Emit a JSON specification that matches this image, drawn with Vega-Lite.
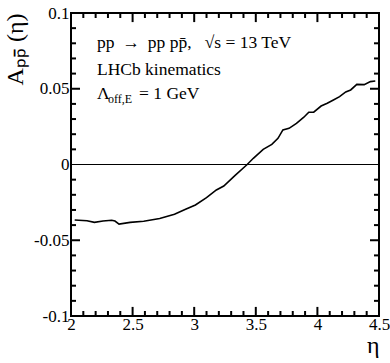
{
  "$schema": "https://vega.github.io/schema/vega-lite/v6.json",
  "width": 308,
  "height": 303,
  "autosize": "none",
  "padding": {"left": 71, "top": 13, "right": 11, "bottom": 47},
  "background": "white",
  "config": {
    "view": {"stroke": "black", "strokeWidth": 2},
    "axis": {"labelFont": "Liberation Serif", "titleFont": "Liberation Serif", "labelColor": "black", "titleColor": "black", "grid": false, "domain": false, "labelFlush": false, "labelOverlap": false, "titleFontWeight": "normal"},
    "text": {"font": "Liberation Serif", "color": "black", "align": "left", "baseline": "middle"}
  },
  "layer": [
    {
      "data": {"values": [
        {"eta": 2.03, "A": -0.0366},
        {"eta": 2.13, "A": -0.0371},
        {"eta": 2.19, "A": -0.0382},
        {"eta": 2.26, "A": -0.0373},
        {"eta": 2.33, "A": -0.0368},
        {"eta": 2.357, "A": -0.0373},
        {"eta": 2.39, "A": -0.0393},
        {"eta": 2.48, "A": -0.0382},
        {"eta": 2.59, "A": -0.0375},
        {"eta": 2.72, "A": -0.0357},
        {"eta": 2.84, "A": -0.0329},
        {"eta": 2.93, "A": -0.0296},
        {"eta": 3.01, "A": -0.0267},
        {"eta": 3.10, "A": -0.0219},
        {"eta": 3.18, "A": -0.0168},
        {"eta": 3.24, "A": -0.0142},
        {"eta": 3.33, "A": -0.0074},
        {"eta": 3.43, "A": 0.0},
        {"eta": 3.48, "A": 0.0041},
        {"eta": 3.56, "A": 0.0100},
        {"eta": 3.63, "A": 0.0133},
        {"eta": 3.68, "A": 0.0173},
        {"eta": 3.72, "A": 0.0228},
        {"eta": 3.77, "A": 0.0239},
        {"eta": 3.83, "A": 0.0272},
        {"eta": 3.89, "A": 0.0312},
        {"eta": 3.93, "A": 0.0345},
        {"eta": 3.97, "A": 0.0345},
        {"eta": 4.03, "A": 0.0386},
        {"eta": 4.08, "A": 0.0404},
        {"eta": 4.13, "A": 0.0426},
        {"eta": 4.18, "A": 0.0448},
        {"eta": 4.23, "A": 0.0479},
        {"eta": 4.27, "A": 0.0492},
        {"eta": 4.32, "A": 0.0529},
        {"eta": 4.38, "A": 0.0527},
        {"eta": 4.43, "A": 0.0547},
        {"eta": 4.47, "A": 0.0551}
      ]},
      "mark": {"type": "line", "color": "black", "strokeWidth": 1.6},
      "encoding": {
        "x": {"field": "eta", "type": "quantitative", "scale": {"domain": [2, 4.5], "nice": false, "zero": false},
          "axis": {"orient": "bottom", "ticks": false, "values": [2, 2.5, 3, 3.5, 4, 4.5], "labelExpr": "'' + datum.value", "labelFontSize": 17, "labelPadding": 0, "title": "η", "titleFontSize": 24, "titleAnchor": "end", "titleAlign": "right", "titlePadding": 1}},
        "y": {"field": "A", "type": "quantitative", "scale": {"domain": [-0.1, 0.1], "nice": false, "zero": false},
          "axis": {"orient": "left", "ticks": false, "values": [-0.1, -0.05, 0, 0.05, 0.1], "labelExpr": "'' + datum.value", "labelFontSize": 17, "labelPadding": 2, "title": "Aₚₚ̄ (η)", "titleFontSize": 24, "titleAnchor": "end", "titleAlign": "right", "titlePadding": 6}}
      }
    },
    {
      "data": {"values": [{"x0": 2, "x1": 4.5, "z": 0}]},
      "mark": {"type": "rule", "color": "black", "strokeWidth": 1.2},
      "encoding": {
        "x": {"field": "x0", "type": "quantitative"},
        "x2": {"field": "x1"},
        "y": {"field": "z", "type": "quantitative"}
      }
    },
    {
      "data": {"values": [
        {"v": 2.5, "b0": -0.1, "b1": -0.094, "t0": 0.1, "t1": 0.094},
        {"v": 3, "b0": -0.1, "b1": -0.094, "t0": 0.1, "t1": 0.094},
        {"v": 3.5, "b0": -0.1, "b1": -0.094, "t0": 0.1, "t1": 0.094},
        {"v": 4, "b0": -0.1, "b1": -0.094, "t0": 0.1, "t1": 0.094},
        {"v": 2.1, "b0": -0.1, "b1": -0.0967, "t0": 0.1, "t1": 0.0967},
        {"v": 2.2, "b0": -0.1, "b1": -0.0967, "t0": 0.1, "t1": 0.0967},
        {"v": 2.3, "b0": -0.1, "b1": -0.0967, "t0": 0.1, "t1": 0.0967},
        {"v": 2.4, "b0": -0.1, "b1": -0.0967, "t0": 0.1, "t1": 0.0967},
        {"v": 2.6, "b0": -0.1, "b1": -0.0967, "t0": 0.1, "t1": 0.0967},
        {"v": 2.7, "b0": -0.1, "b1": -0.0967, "t0": 0.1, "t1": 0.0967},
        {"v": 2.8, "b0": -0.1, "b1": -0.0967, "t0": 0.1, "t1": 0.0967},
        {"v": 2.9, "b0": -0.1, "b1": -0.0967, "t0": 0.1, "t1": 0.0967},
        {"v": 3.1, "b0": -0.1, "b1": -0.0967, "t0": 0.1, "t1": 0.0967},
        {"v": 3.2, "b0": -0.1, "b1": -0.0967, "t0": 0.1, "t1": 0.0967},
        {"v": 3.3, "b0": -0.1, "b1": -0.0967, "t0": 0.1, "t1": 0.0967},
        {"v": 3.4, "b0": -0.1, "b1": -0.0967, "t0": 0.1, "t1": 0.0967},
        {"v": 3.6, "b0": -0.1, "b1": -0.0967, "t0": 0.1, "t1": 0.0967},
        {"v": 3.7, "b0": -0.1, "b1": -0.0967, "t0": 0.1, "t1": 0.0967},
        {"v": 3.8, "b0": -0.1, "b1": -0.0967, "t0": 0.1, "t1": 0.0967},
        {"v": 3.9, "b0": -0.1, "b1": -0.0967, "t0": 0.1, "t1": 0.0967},
        {"v": 4.1, "b0": -0.1, "b1": -0.0967, "t0": 0.1, "t1": 0.0967},
        {"v": 4.2, "b0": -0.1, "b1": -0.0967, "t0": 0.1, "t1": 0.0967},
        {"v": 4.3, "b0": -0.1, "b1": -0.0967, "t0": 0.1, "t1": 0.0967},
        {"v": 4.4, "b0": -0.1, "b1": -0.0967, "t0": 0.1, "t1": 0.0967}
      ]},
      "layer": [
        {
          "mark": {"type": "rule", "color": "black", "strokeWidth": 2},
          "encoding": {
            "x": {"field": "v", "type": "quantitative"},
            "y": {"field": "b0", "type": "quantitative"},
            "y2": {"field": "b1"}
          }
        },
        {
          "mark": {"type": "rule", "color": "black", "strokeWidth": 2},
          "encoding": {
            "x": {"field": "v", "type": "quantitative"},
            "y": {"field": "t0", "type": "quantitative"},
            "y2": {"field": "t1"}
          }
        }
      ]
    },
    {
      "data": {"values": [
        {"v": -0.05, "l0": 2, "l1": 2.073, "r0": 4.5, "r1": 4.427},
        {"v": 0.05, "l0": 2, "l1": 2.073, "r0": 4.5, "r1": 4.427},
        {"v": -0.09, "l0": 2, "l1": 2.0406, "r0": 4.5, "r1": 4.4594},
        {"v": -0.08, "l0": 2, "l1": 2.0406, "r0": 4.5, "r1": 4.4594},
        {"v": -0.07, "l0": 2, "l1": 2.0406, "r0": 4.5, "r1": 4.4594},
        {"v": -0.06, "l0": 2, "l1": 2.0406, "r0": 4.5, "r1": 4.4594},
        {"v": -0.04, "l0": 2, "l1": 2.0406, "r0": 4.5, "r1": 4.4594},
        {"v": -0.03, "l0": 2, "l1": 2.0406, "r0": 4.5, "r1": 4.4594},
        {"v": -0.02, "l0": 2, "l1": 2.0406, "r0": 4.5, "r1": 4.4594},
        {"v": -0.01, "l0": 2, "l1": 2.0406, "r0": 4.5, "r1": 4.4594},
        {"v": 0.01, "l0": 2, "l1": 2.0406, "r0": 4.5, "r1": 4.4594},
        {"v": 0.02, "l0": 2, "l1": 2.0406, "r0": 4.5, "r1": 4.4594},
        {"v": 0.03, "l0": 2, "l1": 2.0406, "r0": 4.5, "r1": 4.4594},
        {"v": 0.04, "l0": 2, "l1": 2.0406, "r0": 4.5, "r1": 4.4594},
        {"v": 0.06, "l0": 2, "l1": 2.0406, "r0": 4.5, "r1": 4.4594},
        {"v": 0.07, "l0": 2, "l1": 2.0406, "r0": 4.5, "r1": 4.4594},
        {"v": 0.08, "l0": 2, "l1": 2.0406, "r0": 4.5, "r1": 4.4594},
        {"v": 0.09, "l0": 2, "l1": 2.0406, "r0": 4.5, "r1": 4.4594}
      ]},
      "layer": [
        {
          "mark": {"type": "rule", "color": "black", "strokeWidth": 2},
          "encoding": {
            "y": {"field": "v", "type": "quantitative"},
            "x": {"field": "l0", "type": "quantitative"},
            "x2": {"field": "l1"}
          }
        },
        {
          "mark": {"type": "rule", "color": "black", "strokeWidth": 2},
          "encoding": {
            "y": {"field": "v", "type": "quantitative"},
            "x": {"field": "r0", "type": "quantitative"},
            "x2": {"field": "r1"}
          }
        }
      ]
    },
    {
      "data": {"values": [
        {"eta": 2.211, "A": 0.0802, "label": "pp \u2009→\u2009 pp pp̄,\u2002 √s = 13 TeV"},
        {"eta": 2.211, "A": 0.0624, "label": "LHCb kinematics"},
        {"eta": 2.211, "A": 0.0465, "label": "Λ"},
        {"eta": 2.552, "A": 0.0465, "label": "= 1 GeV"}
      ]},
      "mark": {"type": "text", "fontSize": 17.5},
      "encoding": {
        "x": {"field": "eta", "type": "quantitative"},
        "y": {"field": "A", "type": "quantitative"},
        "text": {"field": "label"}
      }
    },
    {
      "data": {"values": [{"eta": 2.30, "A": 0.0432, "label": "off,E"}]},
      "mark": {"type": "text", "fontSize": 12},
      "encoding": {
        "x": {"field": "eta", "type": "quantitative"},
        "y": {"field": "A", "type": "quantitative"},
        "text": {"field": "label"}
      }
    }
  ]
}
